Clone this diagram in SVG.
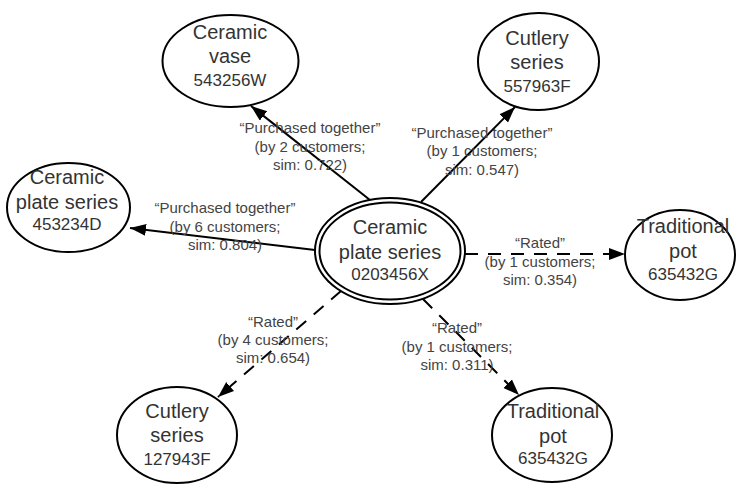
<svg xmlns="http://www.w3.org/2000/svg" width="739" height="484" viewBox="0 0 739 484">
<style>
.bg{fill:#ffffff}
.node{fill:#ffffff;stroke:#000000;stroke-width:2}
.name{font-family:"Liberation Sans",Arial,sans-serif;font-size:20px;fill:#333333;text-anchor:middle}
.id{font-family:"Liberation Sans",Arial,sans-serif;font-size:17px;fill:#333333;text-anchor:middle}
.lbl{font-family:"Liberation Sans",Arial,sans-serif;font-size:15px;fill:#444444;text-anchor:middle}
.edge{stroke:#000000;stroke-width:2;fill:none;marker-end:url(#arrow)}
.dash{stroke-dasharray:13 10}
</style>
<defs>
<marker id="arrow" markerUnits="userSpaceOnUse" markerWidth="18" markerHeight="14" refX="16" refY="6" orient="auto">
<path d="M0,0 L16,6 L0,12 Z" fill="#000000"/>
</marker>
</defs>
<rect class="bg" x="0" y="0" width="739" height="484"/>
<g id="connectors">
<line class="edge" x1="370" y1="200" x2="251" y2="106"/>
<line class="edge" x1="421" y1="202" x2="515" y2="107"/>
<line class="edge" x1="315" y1="250" x2="130" y2="228"/>
<line class="edge dash" x1="465" y1="254" x2="625" y2="254"/>
<line class="edge dash" x1="341" y1="291" x2="218" y2="397"/>
<line class="edge dash" x1="423" y1="299" x2="519" y2="395"/>
</g>
<g id="edge-labels">
<text class="lbl" x="310" y="133">“Purchased together”</text>
<text class="lbl" x="310" y="152">(by 2 customers;</text>
<text class="lbl" x="310" y="170">sim: 0.722)</text>
<text class="lbl" x="482" y="138">“Purchased together”</text>
<text class="lbl" x="482" y="156">(by 1 customers;</text>
<text class="lbl" x="482" y="175">sim: 0.547)</text>
<text class="lbl" x="225" y="213">“Purchased together”</text>
<text class="lbl" x="225" y="232">(by 6 customers;</text>
<text class="lbl" x="225" y="250">sim: 0.804)</text>
<text class="lbl" x="540" y="248">“Rated”</text>
<text class="lbl" x="540" y="267">(by 1 customers;</text>
<text class="lbl" x="540" y="285">sim: 0.354)</text>
<text class="lbl" x="273" y="327">“Rated”</text>
<text class="lbl" x="273" y="345">(by 4 customers;</text>
<text class="lbl" x="273" y="363">sim: 0.654)</text>
<text class="lbl" x="457" y="333">“Rated”</text>
<text class="lbl" x="457" y="352">(by 1 customers;</text>
<text class="lbl" x="457" y="370">sim: 0.311)</text>
</g>
<g id="center">
<ellipse class="node" cx="390" cy="251" rx="75" ry="53"/>
<ellipse class="node" cx="390" cy="251" rx="70.5" ry="48.5"/>
<text class="name" x="390" y="234">Ceramic</text>
<text class="name" x="390" y="259">plate series</text>
<text class="id" x="390" y="280">0203456X</text>
</g>
<g id="vase">
<ellipse class="node" cx="230.5" cy="61" rx="68" ry="46"/>
<text class="name" x="230" y="39">Ceramic</text>
<text class="name" x="230" y="63">vase</text>
<text class="id" x="230" y="86">543256W</text>
</g>
<g id="cutlery-top">
<ellipse class="node" cx="538.5" cy="61.5" rx="60.5" ry="48.5"/>
<text class="name" x="537" y="45">Cutlery</text>
<text class="name" x="537" y="69">series</text>
<text class="id" x="537" y="92">557963F</text>
</g>
<g id="plate-left">
<ellipse class="node" cx="68.5" cy="207.5" rx="61.5" ry="44.5"/>
<text class="name" x="67" y="184">Ceramic</text>
<text class="name" x="67" y="209">plate series</text>
<text class="id" x="67" y="230">453234D</text>
</g>
<g id="pot-right">
<ellipse class="node" cx="680" cy="255" rx="55" ry="45"/>
<text class="name" x="683" y="233">Traditional</text>
<text class="name" x="683" y="258">pot</text>
<text class="id" x="683" y="280">635432G</text>
</g>
<g id="pot-bottom">
<ellipse class="node" cx="552" cy="435" rx="60" ry="47"/>
<text class="name" x="553" y="418">Traditional</text>
<text class="name" x="553" y="443">pot</text>
<text class="id" x="553" y="464">635432G</text>
</g>
<g id="cutlery-bottom">
<ellipse class="node" cx="177" cy="435" rx="60" ry="48"/>
<text class="name" x="177" y="418">Cutlery</text>
<text class="name" x="177" y="442">series</text>
<text class="id" x="177" y="465">127943F</text>
</g>
</svg>
